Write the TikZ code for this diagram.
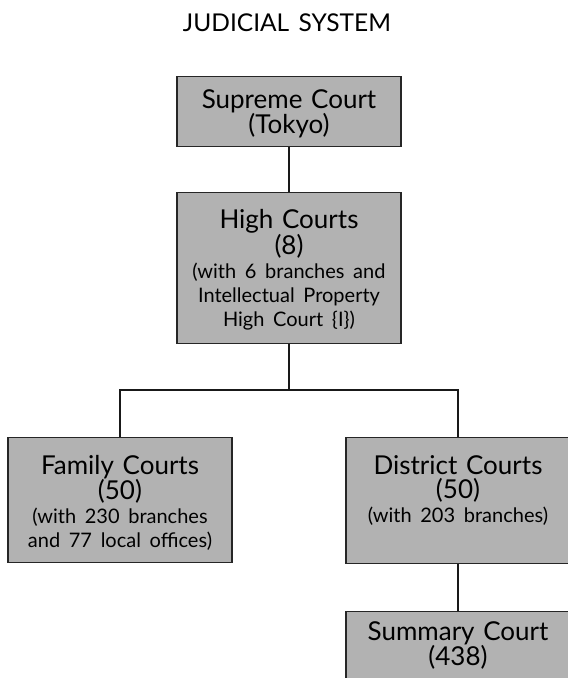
\documentclass[tikz,border=0pt]{standalone}
\usepackage{fontspec}
\setmainfont[WordSpace=1.5]{Lato}
\usetikzlibrary{positioning}
\setlength{\lineskiplimit}{-30pt}

\newcommand{\smalltxt}{\fontsize{20}{24}\selectfont}

\begin{document}
\begin{tikzpicture}[x=1pt,y=-1pt,
	court/.style={draw=black!85,line width=1.4pt,fill=black!30,anchor=north,
		minimum width=224pt,text width=220pt,align=center,inner sep=2pt,
		font=\fontsize{26}{24}\selectfont},
	link/.style={line width=1.4pt,black!90}]
	\useasboundingbox (0,0) rectangle (568,678);
	\node[font=\fontsize{24.5}{25}\selectfont] (title) at (287,23) {JUDICIAL SYSTEM};
	\node[court,minimum height=70pt,text depth=26pt] (supreme) at (289,76)
		{Supreme Court\\(Tokyo)};
	\node[court,minimum height=151pt,text depth=99pt] (high) at (289,192)
		{High Courts\\(8)\\\smalltxt (with 6 branches and\\Intellectual Property\\High Court \{I\})};
	\node[court,minimum height=125pt,text depth=71pt] (family) at (120,437)
		{Family Courts\\(50)\\\smalltxt (with 230 branches\\and 77 local offices)};
	\node[court,minimum height=126pt,text depth=72pt] (district) at (458,437)
		{District Courts\\(50)\\\smalltxt (with 203 branches)};
	\node[court,minimum height=80pt,text depth=42pt] (summary) at (458,611)
		{Summary Court\\(438)};
	\coordinate (split) at (289,390);
	\draw[link] (supreme) -- (high);
	\draw[link] (high) -- (split);
	\draw[link] (family.north) |- (split) -| (district.north);
	\draw[link] (district) -- (summary);
\end{tikzpicture}
\end{document}
